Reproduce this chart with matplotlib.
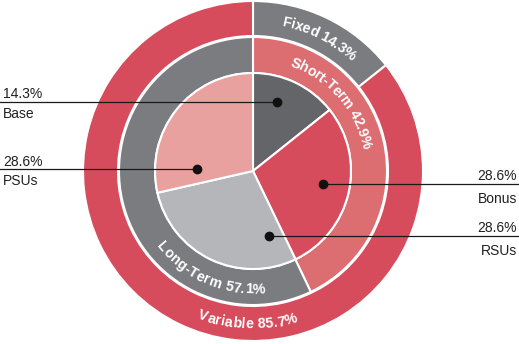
import numpy as np
import matplotlib
matplotlib.use('Agg')
import matplotlib.pyplot as plt
from matplotlib import font_manager
from matplotlib.ft2font import FT2Font

# data
outer_labels = ['Fixed', 'Variable']
outer_vals = [14.3, 85.7]
middle_labels = ['Short-Term', 'Long-Term']
middle_vals = [42.9, 57.1]
inner_labels = ['Base', 'Bonus', 'RSUs', 'PSUs']
inner_vals = [14.3, 28.6, 28.6, 28.6]

outer_colors = ['#7b7c80', '#d64c5c']
middle_colors = ['#dc6d71', '#7b7c80']
inner_colors = ['#646569', '#d64c5c', '#b5b6b9', '#e9a19f']

W, H = 519, 344
fig = plt.figure(figsize=(W / 100, H / 100), dpi=100)
ax = fig.add_axes([0, 0, 1, 1])

cx, cy = 253, H - 171
wp = dict(edgecolor='white', linewidth=1.5)
ax.pie(outer_vals, radius=170, center=(cx, cy), colors=outer_colors,
       startangle=90, counterclock=False, wedgeprops=dict(width=35, **wp))
ax.pie(middle_vals, radius=134, center=(cx, cy), colors=middle_colors,
       startangle=90, counterclock=False, wedgeprops=dict(width=36, **wp))
ax.pie(inner_vals, radius=98, center=(cx, cy), colors=inner_colors,
       startangle=90, counterclock=False, wedgeprops=wp)
ax.set_xlim(0, W)
ax.set_ylim(0, H)
ax.axis('off')

# curved ring labels
bold = font_manager.FontProperties(family='Liberation Sans', weight='bold', size=10.3)
ft = FT2Font(font_manager.findfont(bold))
ft.set_size(10.3, 100)


def arc_text(s, ang, r, upper=True):
    adv = np.array([ft.load_char(ord(c)).linearHoriAdvance / 65536 for c in s])
    pos = np.cumsum(adv) - adv / 2 - adv.sum() / 2
    for c, p in zip(s, pos):
        if upper:
            a = ang + np.degrees(p / r)
            rot = -a
        else:
            a = ang - np.degrees(p / r)
            rot = 180 - a
        t = np.radians(a)
        ax.text(cx + r * np.sin(t), cy + r * np.cos(t), c, rotation=rot,
                rotation_mode='anchor', ha='center', va='center_baseline',
                color='white', fontproperties=bold)


arc_text(f'{outer_labels[0]} {outer_vals[0]}%', 26.5, 153)
arc_text(f'{outer_labels[1]} {outer_vals[1]}%', 182, 152, upper=False)
arc_text(f'{middle_labels[0]} {middle_vals[0]}%', 49, 117)
arc_text(f'{middle_labels[1]} {middle_vals[1]}%', 203, 117, upper=False)

# callouts: dot x, line y (pixels from top), side
callouts = [(277, 102, 'left'), (323, 184, 'right'), (269, 236, 'right'), (197, 169, 'left')]
for name, val, (dx, ly, side) in zip(inner_labels, inner_vals, callouts):
    y = H - ly
    x_end = 0 if side == 'left' else W
    ax.plot([dx, x_end], [y, y], color='#1a1a1a', lw=0.9)
    ax.plot(dx, y, 'o', color='#111111', ms=6)
    tx = 3 if side == 'left' else W - 2
    ha = 'left' if side == 'left' else 'right'
    gap = 16 if side == 'left' else 19
    ax.text(tx, y + 3.5, f'{val}%', ha=ha, va='baseline', fontsize=10,
            family='Liberation Sans', color='#231f20')
    ax.text(tx, y - gap, name, ha=ha, va='baseline', fontsize=10,
            family='Liberation Sans', color='#231f20')

fig.savefig('out.png', dpi=100)
